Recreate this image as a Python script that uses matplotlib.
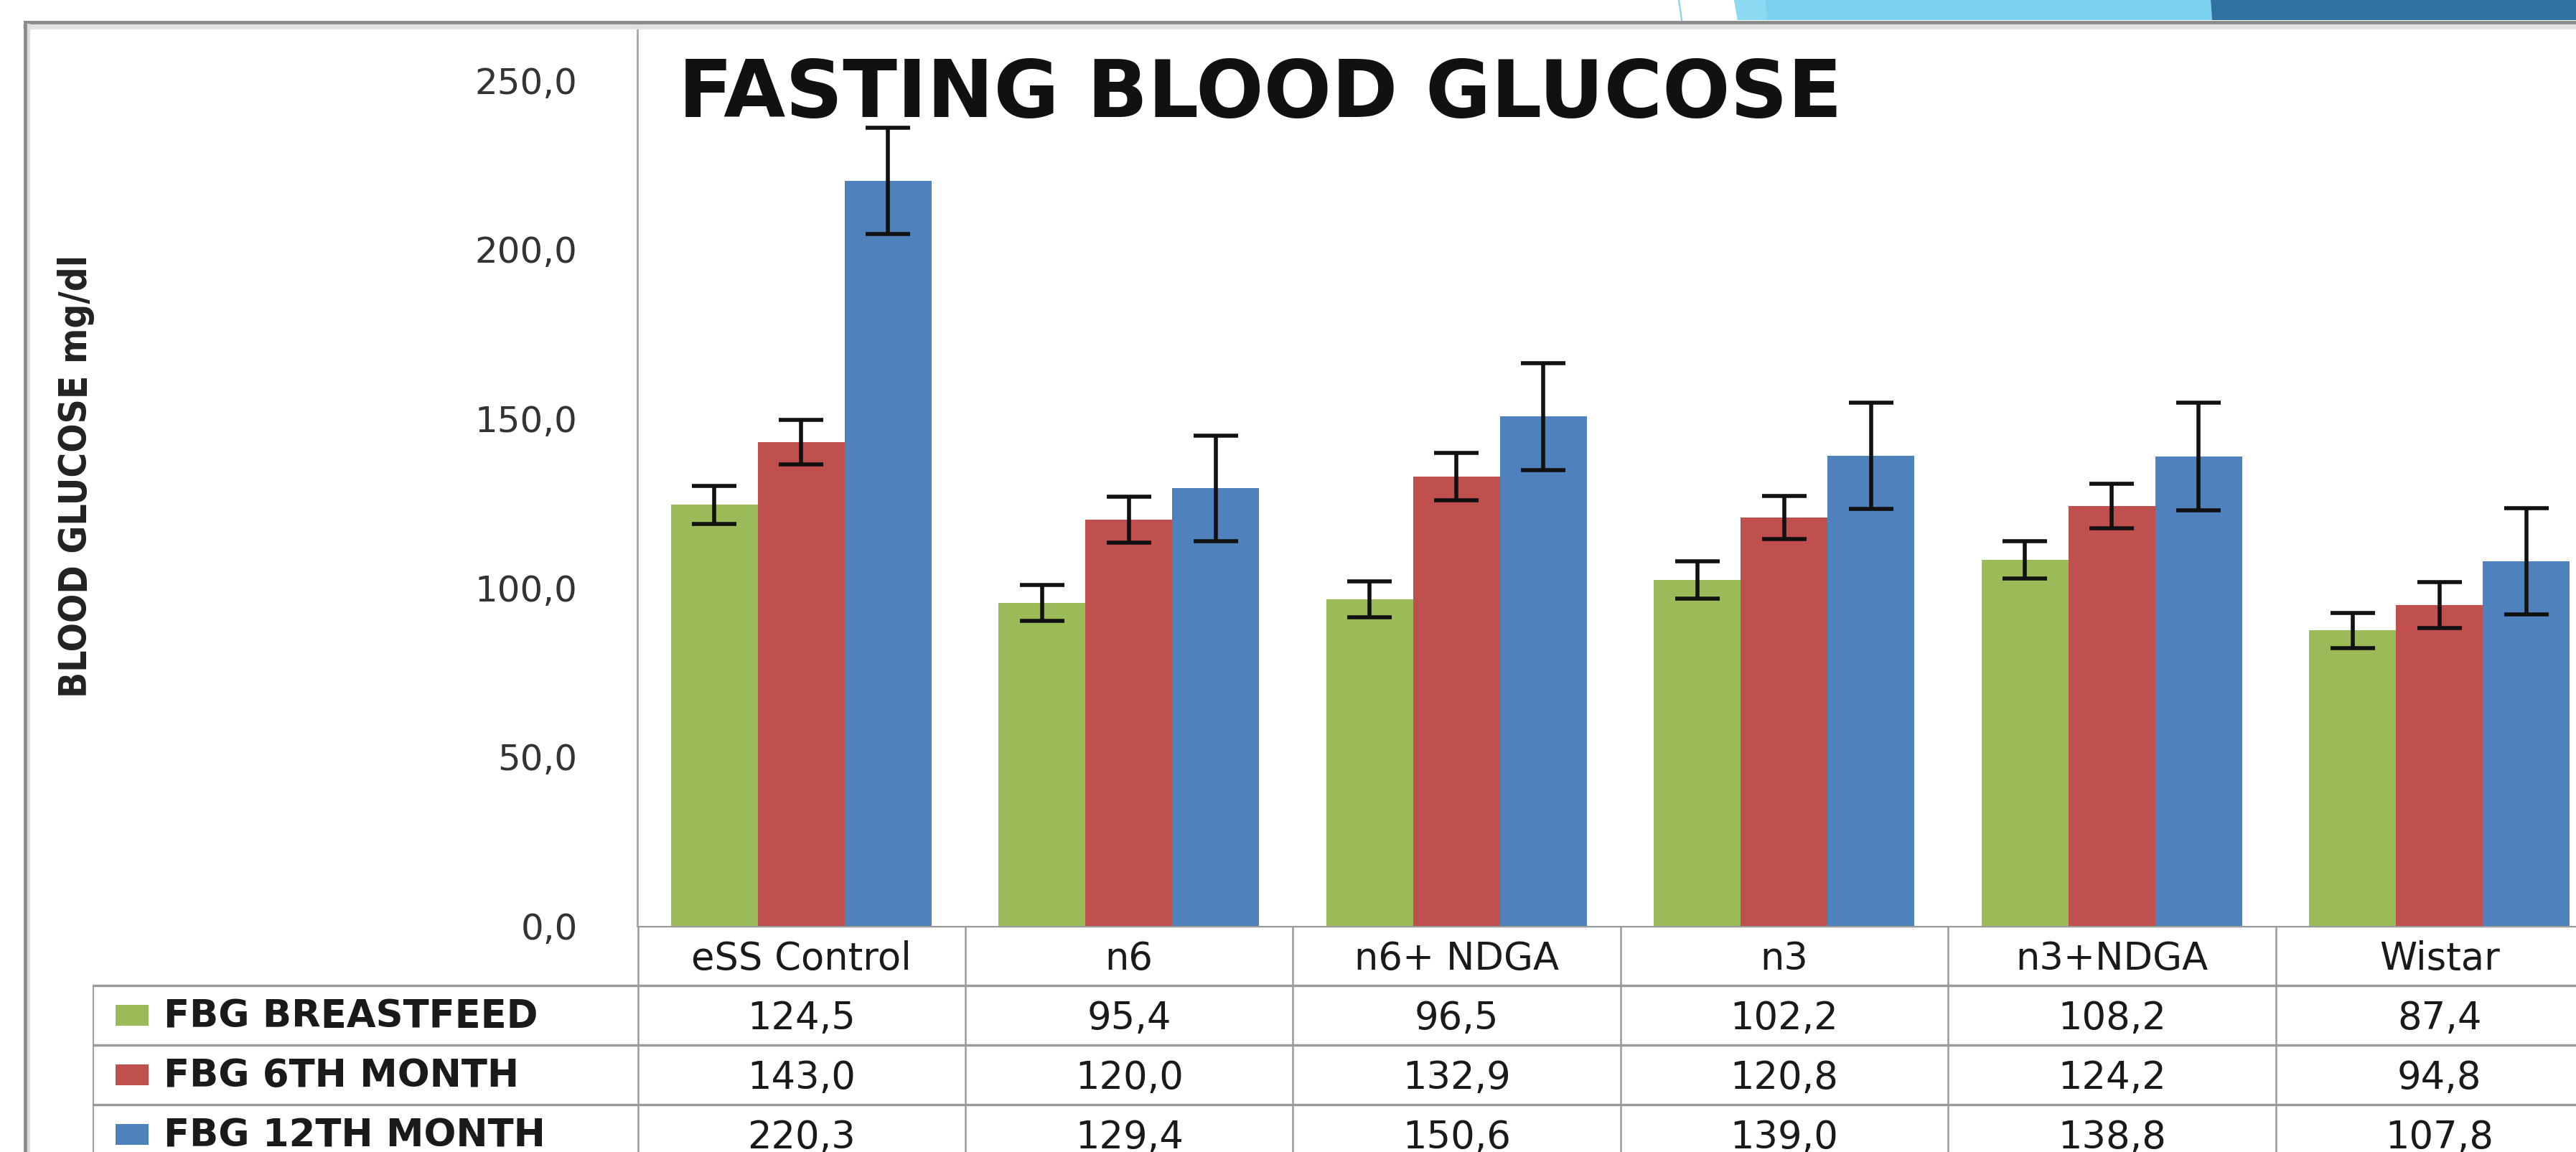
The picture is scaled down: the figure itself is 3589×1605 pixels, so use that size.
import numpy as np
import matplotlib
matplotlib.use("Agg")
import matplotlib.pyplot as plt
from matplotlib.patches import Rectangle, Polygon
from matplotlib.lines import Line2D
from matplotlib import font_manager

# data
groups = ["eSS Control", "n6", "n6+ NDGA", "n3", "n3+NDGA", "Wistar"]
series = ["FBG BREASTFEED", "FBG 6TH MONTH", "FBG 12TH MONTH"]
fbg_breastfeed = [124.5, 95.4, 96.5, 102.2, 108.2, 87.4]
fbg_6th = [143.0, 120.0, 132.9, 120.8, 124.2, 94.8]
fbg_12th = [220.3, 129.4, 150.6, 139.0, 138.8, 107.8]
err_breastfeed = [5.6, 5.3, 5.3, 5.5, 5.6, 5.2]
err_6th = [6.5, 6.8, 7.0, 6.4, 6.6, 6.8]
err_12th = [15.7, 15.6, 15.8, 15.7, 15.9, 15.7]
yticks = [0, 50, 100, 150, 200, 250]

colors = ["#9BBB59", "#C0504D", "#4F81BD"]
values = [fbg_breastfeed, fbg_6th, fbg_12th]
errors = [err_breastfeed, err_6th, err_12th]

names = {f.name for f in font_manager.fontManager.ttflist}
narrow = "Liberation Sans Narrow" if "Liberation Sans Narrow" in names else "DejaVu Sans"

def fmt(v):
    return f"{v:.1f}".replace(".", ",")

W, H = 3589, 1605
fig = plt.figure(figsize=(W / 100, H / 100), dpi=100)
fig.patch.set_facecolor("white")

# slide decoration at the top right
fig.add_artist(Line2D([2339 / W, 2343 / W], [1, 1 - 28 / H], color="#7fd3ee", lw=1.5))
fig.add_artist(Polygon([[2416 / W, 1], [3080 / W, 1], [3082 / W, 1 - 28 / H], [2421 / W, 1 - 28 / H]],
                       closed=True, facecolor="#7ad2ee", edgecolor="none"))
fig.add_artist(Polygon([[2416 / W, 1], [2460 / W, 1], [2462 / W, 1 - 28 / H], [2421 / W, 1 - 28 / H]],
                       closed=True, facecolor="#8cd9f2", edgecolor="none"))
fig.add_artist(Polygon([[3080 / W, 1], [W / W, 1], [W / W, 1 - 28 / H], [3082 / W, 1 - 28 / H]],
                       closed=True, facecolor="#2f71a0", edgecolor="none"))

# chart frame with a soft shadow
fig.add_artist(Line2D([35 / W, 1], [1 - 37 / H, 1 - 37 / H], color="#e2e2e2", lw=5))
fig.add_artist(Line2D([35 / W, 1], [1 - 31 / H, 1 - 31 / H], color="#8a8a8a", lw=3.5))
fig.add_artist(Line2D([35 / W, 35 / W], [0, 1 - 31 / H], color="#8a8a8a", lw=3.5))
fig.add_artist(Line2D([40 / W, 40 / W], [0, 1 - 35 / H], color="#dddddd", lw=3))

# main bar axes
x0, base, top = 888, 1290, 33
ax = fig.add_axes([x0 / W, (H - base) / H, (3627 - x0) / W, (base - top) / H])
ax.set_xlim(-0.5, 5.5)
ax.set_ylim(0, (base - top) / 4.713)
x = np.arange(len(groups))
w = 0.265
for i in range(3):
    ax.bar(x + (i - 1) * w, values[i], w, color=colors[i], yerr=errors[i], capsize=22,
           error_kw=dict(elinewidth=4, capthick=4, ecolor="#111111"), zorder=2)

for s in ["top", "right", "bottom"]:
    ax.spines[s].set_visible(False)
ax.spines["left"].set_color("#a6a6a6")
ax.spines["left"].set_linewidth(2)
ax.set_xticks([])
ax.set_yticks(yticks)
ax.set_yticklabels([fmt(v) for v in yticks], fontsize=36, color="#333333")
ax.tick_params(axis="y", length=0, pad=60)
ax.patch.set_alpha(0)

fig.text(945 / W, 1 - 163 / H, "FASTING BLOOD GLUCOSE", fontsize=80, fontweight="bold",
         ha="left", va="baseline", color="#111111")
fig.text(106 / W, 1 - 663 / H, "BLOOD GLUCOSE mg/dl", rotation=90, fontsize=38,
         family=narrow, fontstretch="condensed", fontweight="bold",
         ha="center", va="center", color="#222222")

# data table below the bars
lab_left = -0.5 - (x0 - 129) / 456
tab = fig.add_axes([129 / W, (H - 1622) / H, (3627 - 129) / W, 332 / H])
tab.set_xlim(lab_left, 5.5)
tab.set_ylim(4, 0)
tab.axis("off")
lc = "#9a9a9a"
tab.plot([-0.5, 5.5], [0, 0], color=lc, lw=2.5)
for r in [1, 2, 3]:
    tab.plot([lab_left, 5.5], [r, r], color=lc, lw=2.5)
tab.plot([lab_left, lab_left], [1, 4], color=lc, lw=2)
for i in range(len(groups) + 1):
    tab.plot([i - 0.5, i - 0.5], [0, 4], color=lc, lw=1.8)

for i, g in enumerate(groups):
    tab.text(i, 0.55, g, ha="center", va="center", fontsize=38, color="#1a1a1a")
for r in range(3):
    tab.add_patch(Rectangle((lab_left + 32 / 456, r + 1.32), 46 / 456, 0.36,
                            facecolor=colors[r], edgecolor="none"))
    tab.text(lab_left + 99 / 456, r + 1.52, series[r], ha="left", va="center",
             fontsize=38, fontweight="bold", color="#1a1a1a")
    for i in range(len(groups)):
        tab.text(i, r + 1.55, fmt(values[r][i]), ha="center", va="center",
                 fontsize=38, color="#1a1a1a")

fig.savefig("out.png", dpi=100)
